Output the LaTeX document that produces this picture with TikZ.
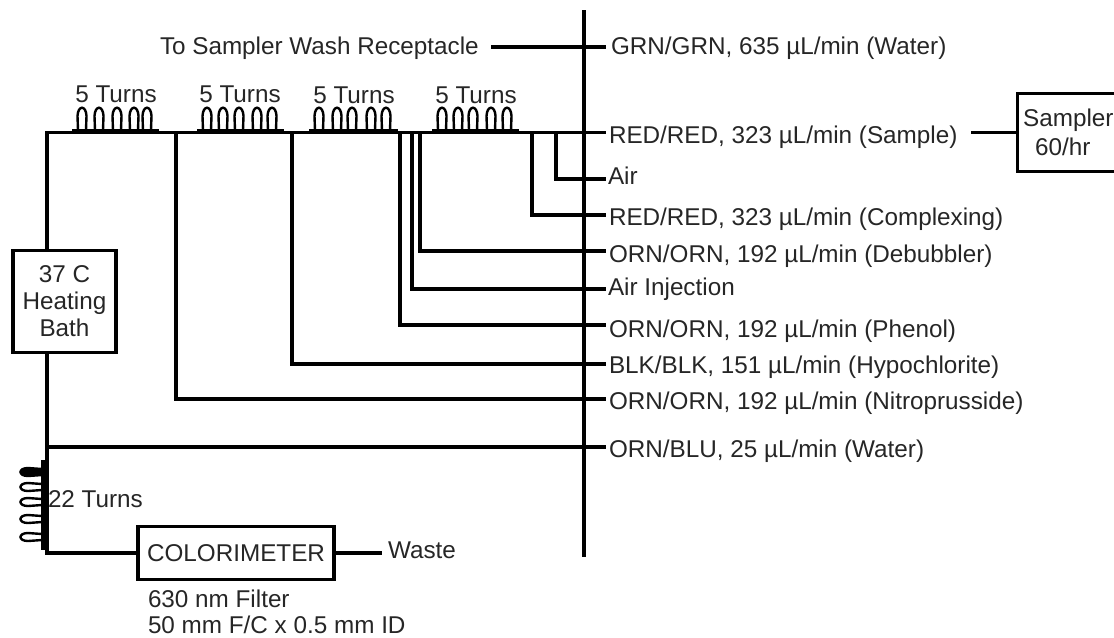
\documentclass[tikz,border=0pt]{standalone}
\usepackage{fontspec}
\setmainfont{Liberation Sans}
\tikzset{
  x=0.75pt,y=-0.75pt,
  pipe/.style={line width=2.4pt,line cap=rect,black},
  coilline/.style={line width=1.8pt,black},
  lbl/.style={font=\fontsize{18.2pt}{20.25pt}\selectfont,inner sep=0pt,outer sep=0pt,text=black!85},
  box/.style={draw=black,line width=2.4pt,fill=white,inner sep=0pt,align=center,font=\fontsize{18.2pt}{20.25pt}\selectfont,text=black!85},
}
\newcommand{\hcoil}[5]{%
  \draw[line width=2pt,black] (#1-10,130.5) -- (#5+12,130.5);
  \foreach \cx in {#1,#2,#3,#4,#5}
    \draw[coilline] (\cx-4,130) -- (\cx-4.5,116) .. controls (\cx-4,105) and (\cx+4,105) .. (\cx+4.5,116) -- (\cx+4,130);
}
\begin{document}
\begin{tikzpicture}
\useasboundingbox (0,0) rectangle (1114,637);
\coordinate (top) at (584,12);
\coordinate (bot) at (584,555);
\draw[pipe] (top) -- (bot);
% boxes
\node[box,minimum width=77.25pt,minimum height=77pt] (bath) at (64.5,301.5) {37 C\\Heating\\Bath};
\node[box,minimum width=147pt,minimum height=39.75pt] (color) at (236,553) {COLORIMETER};
\node[box,text width=77pt,minimum height=59pt,align=left,font=\fontsize{18.2pt}{21.75pt}\selectfont] (sampler) at (1068.5,132.5) {\hspace*{4.5pt}Sampler\\\hspace*{13.5pt}60/hr};
% labels
\node[lbl,anchor=base west] (washsrc) at (160,54) {To Sampler Wash Receptacle};
\node[lbl,anchor=base west] (l1) at (611,54) {GRN/GRN, 635 µL/min (Water)};
\node[lbl,anchor=base west] (l2) at (609,143) {RED/RED, 323 µL/min (Sample)};
\node[lbl,anchor=base west] (l3) at (608,184) {Air};
\node[lbl,anchor=base west] (l4) at (609,225) {RED/RED, 323 µL/min (Complexing)};
\node[lbl,anchor=base west] (l5) at (609,262) {ORN/ORN, 192 µL/min (Debubbler)};
\node[lbl,anchor=base west] (l6) at (608,295) {Air Injection};
\node[lbl,anchor=base west] (l7) at (609,337) {ORN/ORN, 192 µL/min (Phenol)};
\node[lbl,anchor=base west] (l8) at (609,373) {BLK/BLK, 151 µL/min (Hypochlorite)};
\node[lbl,anchor=base west] (l9) at (609,409) {ORN/ORN, 192 µL/min (Nitroprusside)};
\node[lbl,anchor=base west] (l10) at (609,457) {ORN/BLU, 25 µL/min (Water)};
\node[lbl,anchor=base] (t1) at (116,102) {5 Turns};
\node[lbl,anchor=base] (t2) at (240,102) {5 Turns};
\node[lbl,anchor=base] (t3) at (354,103) {5 Turns};
\node[lbl,anchor=base] (t4) at (476,103) {5 Turns};
\node[lbl,anchor=base west] (t5) at (48,507) {22 Turns};
\node[lbl,anchor=base west] (waste) at (388,558) {Waste};
\node[lbl,anchor=base west] (f1) at (148,607) {630 nm Filter};
\node[lbl,anchor=base west] (f2) at (148,633) {50 mm F/C x 0.5 mm ID};
% free ends beside the labels
\coordinate (e1) at (604,47);
\coordinate (e2) at (604,132.5);
\coordinate (wsh) at (493,47);
\coordinate (cor) at (47,132.5);
\coordinate (low) at (47,553);
\coordinate (wst) at (380,553);
\coordinate (smp) at (973,132.5);
% bus
\draw[pipe] (bath.north -| cor) -- (cor) -- (e2);
\draw[pipe] (bath.south -| low) -- (low) -- (color.west);
\draw[pipe] (color.east) -- (wst);
\draw[pipe] (wsh) -- (e1);
\draw[pipe] (smp) -- (sampler.west);
% tap lines
\foreach \tx/\ty in {556/179,532/215,420/251,412/289,400/325,292/364,176/399}
  \draw[pipe] (\tx,132.5) -- (\tx,\ty) -- (604,\ty);
\draw[pipe] (47,447) -- (604,447);
% coils
\hcoil{82}{99}{117}{134}{147}
\hcoil{207}{223}{239}{257}{272}
\hcoil{319}{337}{352}{371}{386}
\hcoil{442}{458}{473}{491}{507}
\draw[line width=3.2pt,black] (43,460) -- (43,550);
\foreach \cy in {472,487,502,519,537}
  \draw[coilline] (42,\cy+3) -- (28,\cy+4) .. controls (18,\cy+4) and (18,\cy-4) .. (28,\cy-4) -- (42,\cy-3);
\fill[black] (42,475) -- (28,476) .. controls (18,476) and (18,468) .. (28,468) -- (42,469) -- cycle;
\end{tikzpicture}
\end{document}
